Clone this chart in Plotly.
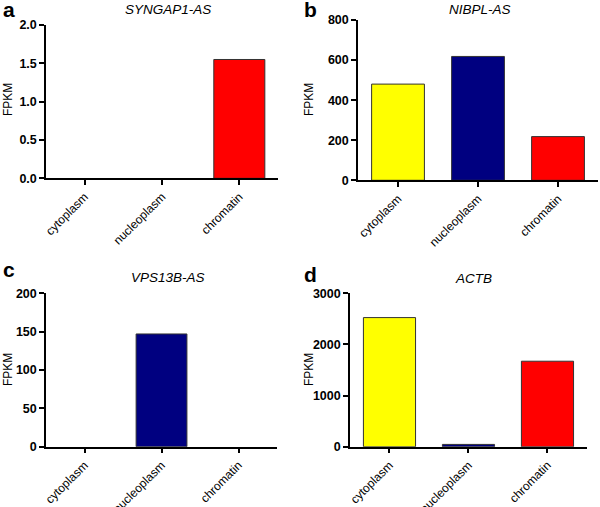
import plotly.graph_objects as go

categories = ["cytoplasm", "nucleoplasm", "chromatin"]
bar_colors = ["#FFFF00", "#000080", "#FF0000"]

panel_letters = ["a", "b", "c", "d"]
panel_titles = ["SYNGAP1-AS", "NIBPL-AS", "VPS13B-AS", "ACTB"]

syngap1_as = [0, 0, 1.55]
nibpl_as = [480, 618, 218]
vps13b_as = [0, 147, 0]
actb = [2525, 45, 1672]

series = [syngap1_as, nibpl_as, vps13b_as, actb]
y_max = [2.0, 800, 200, 3000]
y_dtick = [0.5, 200, 50, 1000]
y_fmt = [".1f", "d", "d", "d"]

# layout positions (paper coords)
x_domains = [[0.0767, 0.4633], [0.5967, 0.9967], [0.0767, 0.4617], [0.5833, 0.9783]]
y_domains = [[0.6483, 0.9507], [0.6444, 0.9606], [0.1189, 0.4215], [0.1189, 0.4215]]
W, H = 600, 507

fig = go.Figure()
font_fam = "Liberation Sans, Arial, sans-serif"

for i in range(4):
    sfx = "" if i == 0 else str(i + 1)
    fig.add_trace(go.Bar(
        x=categories, y=series[i],
        marker=dict(color=bar_colors,
                    line=dict(color="#333333", width=[0 if v == 0 else 1 for v in series[i]])),
        width=0.66,
        xaxis="x" + sfx, yaxis="y" + sfx,
        showlegend=False,
    ))
    fig.layout["xaxis" + sfx] = dict(
        domain=x_domains[i], anchor="y" + sfx, type="category",
        categoryorder="array", categoryarray=categories,
        range=[-0.5, 2.5], showline=True, linecolor="black", linewidth=1.5,
        ticks="outside", ticklen=5, tickwidth=1.5, tickcolor="black",
        tickangle=-45, showgrid=False, zeroline=False, automargin=False,
        layer="above traces",
        tickfont=dict(family=font_fam, size=12, color="black"),
    )
    fig.layout["yaxis" + sfx] = dict(
        domain=y_domains[i], anchor="x" + sfx,
        range=[0, y_max[i]], dtick=y_dtick[i], tick0=0, tickformat=y_fmt[i],
        showline=True, linecolor="black", linewidth=1.5,
        ticks="outside", ticklen=5, tickwidth=1.5, tickcolor="black",
        showgrid=False, zeroline=False, automargin=False,
        layer="above traces",
        tickfont=dict(family=font_fam, size=12.5, color="black", weight=700),
    )

annotations = []
letter_pos = [(1, 10), (302, 10), (1, 269), (302, 274)]
title_pos = [(168, 10), (480, 10), (168, 277.5), (473, 278)]
fpkm_pos = [(8, 100), (309, 100), (8, 370), (309, 370)]
for i in range(4):
    lx, ly = letter_pos[i]
    annotations.append(dict(text="<b>%s</b>" % panel_letters[i], x=lx / W, y=1 - ly / H,
                            xref="paper", yref="paper", xanchor="left", yanchor="middle",
                            showarrow=False, font=dict(family=font_fam, size=21, color="black")))
    tx, ty = title_pos[i]
    annotations.append(dict(text="<i>%s</i>" % panel_titles[i], x=tx / W, y=1 - ty / H,
                            xref="paper", yref="paper", xanchor="center", yanchor="middle",
                            showarrow=False, font=dict(family=font_fam, size=13.5, color="black")))
    fx, fy = fpkm_pos[i]
    annotations.append(dict(text="FPKM", x=fx / W, y=1 - fy / H, textangle=-90,
                            xref="paper", yref="paper", xanchor="center", yanchor="middle",
                            showarrow=False, font=dict(family=font_fam, size=12, color="black")))

fig.update_layout(
    width=W, height=H, margin=dict(l=0, r=0, t=0, b=0),
    paper_bgcolor="white", plot_bgcolor="white",
    annotations=annotations, bargap=0.34,
    font=dict(family=font_fam),
)

fig.write_html("out.html", config={"displayModeBar": False},
               post_script="document.body.style.margin='0';document.body.style.overflow='hidden';")
